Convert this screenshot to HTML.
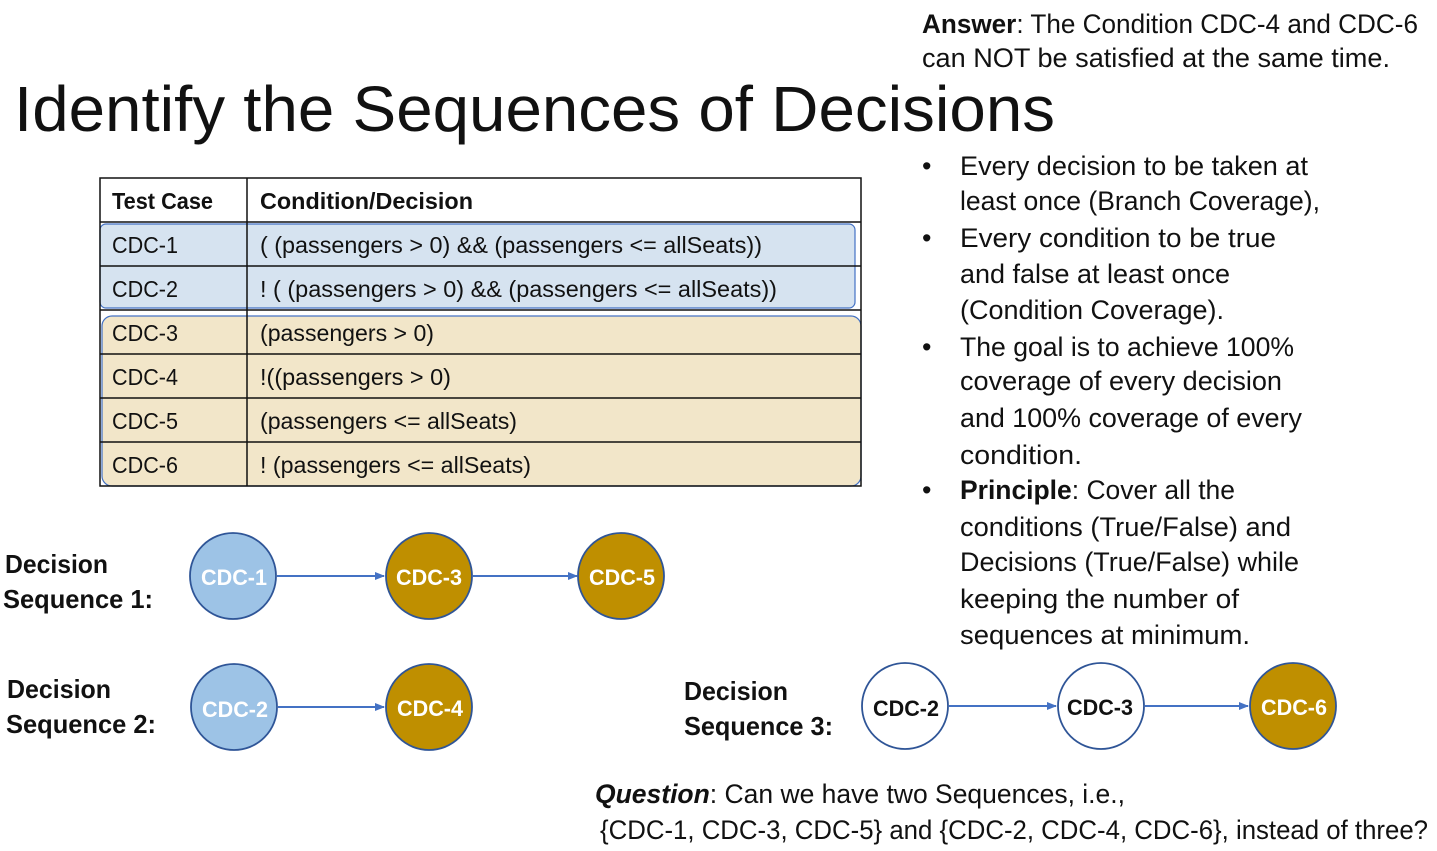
<!DOCTYPE html>
<html><head><meta charset="utf-8"><style>
html,body{margin:0;padding:0;background:#fff;}
svg{display:block;font-family:"Liberation Sans",sans-serif;}
</style></head><body>
<svg width="1437" height="851" viewBox="0 0 1437 851" xmlns="http://www.w3.org/2000/svg">
<defs><marker id="a" markerWidth="10" markerHeight="10" refX="9" refY="5" orient="auto" markerUnits="userSpaceOnUse"><path d="M0,1 L10,5 L0,9 z" fill="#4472C4"/></marker></defs>
<g font-size="27" fill="#111">
<text x="922" y="33" textLength="496" lengthAdjust="spacingAndGlyphs"><tspan font-weight="bold">Answer</tspan>: The Condition CDC-4 and CDC-6</text>
<text x="922" y="67" textLength="468" lengthAdjust="spacingAndGlyphs">can NOT be satisfied at the same time.</text>
</g>
<text x="14" y="131" font-size="64" fill="#111" textLength="1041" lengthAdjust="spacingAndGlyphs">Identify the Sequences of Decisions</text>
<!-- table -->
<rect x="100" y="224" width="755" height="84" rx="6" fill="#D6E3F0" stroke="#4472C4" stroke-width="1.2"/>
<rect x="102" y="316" width="759" height="170" rx="10" fill="#F2E6C9" stroke="#4472C4" stroke-width="1.2"/>
<g stroke="#111" stroke-width="1.5" fill="none">
<rect x="100" y="178" width="761" height="308"/>
<line x1="247" y1="178" x2="247" y2="486"/>
<line x1="100" y1="222" x2="861" y2="222"/>
<line x1="100" y1="266" x2="861" y2="266"/>
<line x1="100" y1="310" x2="861" y2="310"/>
<line x1="100" y1="354" x2="861" y2="354"/>
<line x1="100" y1="398" x2="861" y2="398"/>
<line x1="100" y1="442" x2="861" y2="442"/>
</g>
<g font-size="23" fill="#111">
<text x="112" y="209" font-weight="bold" textLength="101" lengthAdjust="spacingAndGlyphs">Test Case</text>
<text x="260" y="209" font-weight="bold" textLength="213" lengthAdjust="spacingAndGlyphs">Condition/Decision</text>
<text x="112" y="253" textLength="66" lengthAdjust="spacingAndGlyphs">CDC-1</text>
<text x="260" y="253" textLength="502" lengthAdjust="spacingAndGlyphs">( (passengers &gt; 0) &amp;&amp; (passengers &lt;= allSeats))</text>
<text x="112" y="297" textLength="66" lengthAdjust="spacingAndGlyphs">CDC-2</text>
<text x="260" y="297" textLength="517" lengthAdjust="spacingAndGlyphs">! ( (passengers &gt; 0) &amp;&amp; (passengers &lt;= allSeats))</text>
<text x="112" y="341" textLength="66" lengthAdjust="spacingAndGlyphs">CDC-3</text>
<text x="260" y="341" textLength="174" lengthAdjust="spacingAndGlyphs">(passengers &gt; 0)</text>
<text x="112" y="385" textLength="66" lengthAdjust="spacingAndGlyphs">CDC-4</text>
<text x="260" y="385" textLength="191" lengthAdjust="spacingAndGlyphs">!((passengers &gt; 0)</text>
<text x="112" y="429" textLength="66" lengthAdjust="spacingAndGlyphs">CDC-5</text>
<text x="260" y="429" textLength="257" lengthAdjust="spacingAndGlyphs">(passengers &lt;= allSeats)</text>
<text x="112" y="473" textLength="66" lengthAdjust="spacingAndGlyphs">CDC-6</text>
<text x="260" y="473" textLength="271" lengthAdjust="spacingAndGlyphs">! (passengers &lt;= allSeats)</text>
</g>
<!-- bullets -->
<g font-size="27" fill="#111">
<text x="922" y="175">•</text><text x="922" y="247">•</text><text x="922" y="356">•</text><text x="922" y="499">•</text>
<text x="960" y="175" textLength="348" lengthAdjust="spacingAndGlyphs">Every decision to be taken at</text>
<text x="960" y="210" textLength="360" lengthAdjust="spacingAndGlyphs">least once (Branch Coverage),</text>
<text x="960" y="247" textLength="316" lengthAdjust="spacingAndGlyphs">Every condition to be true</text>
<text x="960" y="283" textLength="270" lengthAdjust="spacingAndGlyphs">and false at least once</text>
<text x="960" y="319" textLength="264" lengthAdjust="spacingAndGlyphs">(Condition Coverage).</text>
<text x="960" y="356" textLength="334" lengthAdjust="spacingAndGlyphs">The goal is to achieve 100%</text>
<text x="960" y="390" textLength="322" lengthAdjust="spacingAndGlyphs">coverage of every decision</text>
<text x="960" y="427" textLength="342" lengthAdjust="spacingAndGlyphs">and 100% coverage of every</text>
<text x="960" y="464" textLength="122" lengthAdjust="spacingAndGlyphs">condition.</text>
<text x="960" y="499" textLength="275" lengthAdjust="spacingAndGlyphs"><tspan font-weight="bold">Principle</tspan>: Cover all the</text>
<text x="960" y="536" textLength="331" lengthAdjust="spacingAndGlyphs">conditions (True/False) and</text>
<text x="960" y="571" textLength="339" lengthAdjust="spacingAndGlyphs">Decisions (True/False) while</text>
<text x="960" y="608" textLength="279" lengthAdjust="spacingAndGlyphs">keeping the number of</text>
<text x="960" y="644" textLength="290" lengthAdjust="spacingAndGlyphs">sequences at minimum.</text>
</g>
<!-- labels -->
<g font-size="26" font-weight="bold" fill="#111">
<text x="5" y="573" textLength="103" lengthAdjust="spacingAndGlyphs">Decision</text>
<text x="3" y="608" textLength="150" lengthAdjust="spacingAndGlyphs">Sequence 1:</text>
<text x="7" y="698" textLength="104" lengthAdjust="spacingAndGlyphs">Decision</text>
<text x="6" y="733" textLength="150" lengthAdjust="spacingAndGlyphs">Sequence 2:</text>
<text x="684" y="700" textLength="104" lengthAdjust="spacingAndGlyphs">Decision</text>
<text x="684" y="735" textLength="149" lengthAdjust="spacingAndGlyphs">Sequence 3:</text>
</g>
<!-- arrows -->
<g stroke="#4472C4" stroke-width="2" marker-end="url(#a)">
<line x1="277" y1="576" x2="384" y2="576"/>
<line x1="473" y1="576" x2="577" y2="576"/>
<line x1="278" y1="707" x2="384" y2="707"/>
<line x1="949" y1="706" x2="1056" y2="706"/>
<line x1="1145" y1="706" x2="1248" y2="706"/>
</g>
<!-- circles -->
<g stroke="#2F5597" stroke-width="1.8">
<circle cx="233" cy="576" r="43" fill="#9DC3E6"/>
<circle cx="429" cy="576" r="43" fill="#BF8F00"/>
<circle cx="621" cy="576" r="43" fill="#BF8F00"/>
<circle cx="234" cy="707" r="43" fill="#9DC3E6"/>
<circle cx="429" cy="707" r="43" fill="#BF8F00"/>
<circle cx="905" cy="706" r="43" fill="#fff"/>
<circle cx="1101" cy="706" r="43" fill="#fff"/>
<circle cx="1293" cy="706" r="43" fill="#BF8F00"/>
</g>
<g font-size="22" font-weight="bold" text-anchor="middle" fill="#fff">
<text x="234" y="585" textLength="66" lengthAdjust="spacingAndGlyphs">CDC-1</text>
<text x="429" y="585" textLength="66" lengthAdjust="spacingAndGlyphs">CDC-3</text>
<text x="622" y="585" textLength="66" lengthAdjust="spacingAndGlyphs">CDC-5</text>
<text x="235" y="717" textLength="66" lengthAdjust="spacingAndGlyphs">CDC-2</text>
<text x="430" y="716" textLength="66" lengthAdjust="spacingAndGlyphs">CDC-4</text>
<text x="906" y="716" fill="#111" textLength="66" lengthAdjust="spacingAndGlyphs">CDC-2</text>
<text x="1100" y="715" fill="#111" textLength="66" lengthAdjust="spacingAndGlyphs">CDC-3</text>
<text x="1294" y="715" textLength="66" lengthAdjust="spacingAndGlyphs">CDC-6</text>
</g>
<g font-size="27" fill="#111">
<text x="595" y="803" textLength="530" lengthAdjust="spacingAndGlyphs"><tspan font-weight="bold" font-style="italic">Question</tspan>: Can we have two Sequences, i.e.,</text>
<text x="600" y="839" textLength="828" lengthAdjust="spacingAndGlyphs">{CDC-1, CDC-3, CDC-5} and {CDC-2, CDC-4, CDC-6}, instead of three?</text>
</g>
</svg>
</body></html>
